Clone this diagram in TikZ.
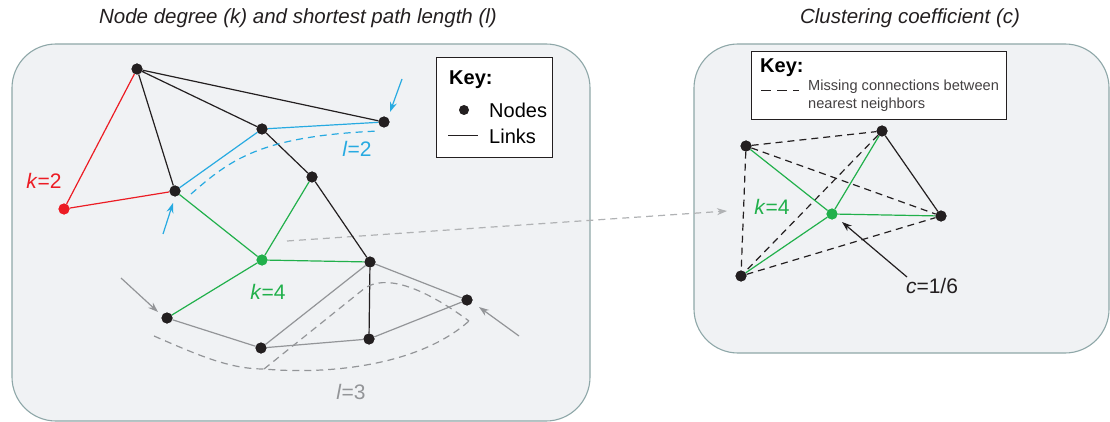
\documentclass[tikz,border=0pt]{standalone}
\usepackage{fontspec}
\setmainfont{Liberation Sans}
\usetikzlibrary{arrows.meta,calc}
\definecolor{panelfill}{HTML}{F0F2F4}
\definecolor{panelline}{HTML}{8EA7A8}
\definecolor{nred}{HTML}{EC1C24}
\definecolor{ngreen}{HTML}{21B04B}
\definecolor{ncyan}{HTML}{27AAE1}
\definecolor{ngray}{HTML}{939598}
\definecolor{nblack}{HTML}{231F20}
\definecolor{ltgray}{HTML}{B0B2B4}
\definecolor{titlecol}{HTML}{231F20}
\tikzset{
  panel/.style={draw=panelline, fill=panelfill, line width=1.1pt, rounded corners=44pt},
  dot/.style={circle, fill=nblack, inner sep=0pt, minimum size=11pt},
  gdot/.style={circle, fill=ngreen, inner sep=0pt, minimum size=11pt},
  rdot/.style={circle, fill=nred, inner sep=0pt, minimum size=11pt},
  edge/.style={line width=1.2pt, nblack},
  redge/.style={line width=1.2pt, nred},
  gedge/.style={line width=1.2pt, ngreen},
  cedge/.style={line width=1.2pt, ncyan},
  yedge/.style={line width=1.2pt, ngray},
  mdash/.style={line width=1.2pt, nblack, dash pattern=on 7pt off 5pt},
  pathdash/.style={line width=1.2pt, dash pattern=on 7pt off 5pt},
  ttl/.style={font=\fontsize{20.5}{24}\selectfont\itshape, text=titlecol},
  lbl/.style={font=\fontsize{21}{25}\selectfont},
  keyt/.style={font=\fontsize{20}{24}\selectfont, anchor=west, inner sep=0pt},
  keyb/.style={draw=nblack, line width=1.3pt, fill=white},
  pointer/.style={line width=1.2pt, -{Stealth[length=10pt,width=7pt]}},
}
\begin{document}
\begin{tikzpicture}[x=1pt,y=-1pt]
\useasboundingbox (0,0) rectangle (1110,422);
% panels
\draw[panel] (12,44) rectangle (590,421);
\draw[panel] (694,44) rectangle (1109,353);
\node[ttl] (t1) at (298,18) {Node degree (k) and shortest path length (l)};
\node[ttl] (t2) at (910,18) {Clustering coefficient (c)};

% left key
\node[keyb, minimum width=116pt, minimum height=100pt, anchor=north west] (key1) at (436,57) {};
\node[keyt, font=\fontsize{20}{24}\selectfont\bfseries] (k1t) at (449,80) {Key:};
\node[dot, minimum size=10pt] (k1d) at (464,110) {};
\node[keyt] (k1n) at (489,110) {Nodes};
\coordinate (k1a) at (448,136);
\coordinate (k1b) at (478,136);
\draw[edge, line width=1pt] (k1a) -- (k1b);
\node[keyt] (k1l) at (489,136) {Links};

% left nodes
\node[dot] (A) at (137,69) {};
\node[dot] (B) at (262,129) {};
\node[dot] (C) at (384,122) {};
\node[dot] (D) at (175,191) {};
\node[rdot] (E) at (64,209) {};
\node[dot] (F) at (312,177) {};
\node[gdot] (G) at (262,260) {};
\node[dot] (H) at (370,262) {};
\node[dot] (I) at (167,318) {};
\node[dot] (J) at (261,348) {};
\node[dot] (K) at (369,339) {};
\node[dot] (L) at (467,300) {};

% dashed long arrow
\coordinate (arrS) at (287,241);
\coordinate (arrE) at (727,211);
\draw[ltgray, line width=1.2pt, dash pattern=on 7pt off 5pt, -{Stealth[length=10pt,width=7pt]}] (arrS) -- (arrE);

% left edges
\draw[redge] (A) -- (E) (E) -- (D);
\draw[edge] (A) -- (D) (A) -- (B) (A) -- (C) (B) -- (F) (F) -- (H) (H) -- (K);
\draw[cedge] (B) -- (C) (D) -- (B);
\draw[gedge] (D) -- (G) (F) -- (G) (G) -- (H) (G) -- (I);
\draw[yedge] (I) -- (J) (J) -- (H) (J) -- (K) (H) -- (L) (K) -- (L);
\foreach \n in {A,B,C,D,F,H,I,J,K,L} \node[dot] at (\n) {};
\node[rdot] at (E) {};
\node[gdot] at (G) {};

% cyan dashed path
\coordinate (cd1) at (191,194);
\coordinate (cd2) at (379,131);
\draw[pathdash, ncyan] (cd1) .. controls (230,160) and (260,136) .. (cd2);
% cyan arrows
\coordinate (ca1) at (163,234);
\coordinate (ca2) at (402,79);
\draw[pointer, ncyan] (ca1) -- ($(D)+(-2,12)$);
\draw[pointer, ncyan] (ca2) -- ($(C)+(6,-10)$);
% gray arrows
\coordinate (ga1) at (121,278);
\coordinate (ga2) at (519,336);
\draw[pointer, ngray] (ga1) -- ($(I)+(-9,-6)$);
\draw[pointer, ngray] (ga2) -- ($(L)+(12,7)$);
% gray dashed path
\coordinate (gd1) at (154,336);
\coordinate (gd2) at (264,369);
\coordinate (gd3) at (469,321);
\draw[pathdash, ngray] (gd1) .. controls (200,356) and (230,369) .. (gd2)
   .. controls (330,375) and (420,365) .. (gd3);
\draw[pathdash, ngray] (gd2) -- (365,288) .. controls (385,275) and (420,285) .. (gd3);

% labels
\node[lbl, text=nred] (lk2) at (44,181) {\textit{k}=2};
\node[lbl, text=ngreen] (lk4) at (268,292) {\textit{k}=4};
\node[lbl, text=ncyan] (ll2) at (357,149) {\textit{l}=2};
\node[lbl, text=ngray] (ll3) at (351,392) {\textit{l}=3};

% right key
\node[keyb, minimum width=255pt, minimum height=68pt, anchor=north west] (key2) at (751,51) {};
\node[keyt, font=\fontsize{20}{24}\selectfont\bfseries] (k2t) at (760,68) {Key:};
\coordinate (k2a) at (761,91);
\coordinate (k2b) at (799,91);
\draw[edge, line width=1pt, dash pattern=on 10pt off 6pt] (k2a) -- (k2b);
\node[font=\fontsize{14.6}{18}\selectfont, anchor=north west, align=left, inner sep=0pt, text=nblack!85] (k2x) at (808,80) {Missing connections between\\nearest neighbors};

% right nodes
\node[dot] (P1) at (746,146) {};
\node[dot] (P2) at (882,131) {};
\node[dot] (P3) at (941,216) {};
\node[dot] (P4) at (741,276) {};
\node[gdot] (Q) at (832,214) {};
\draw[mdash] (P1) -- (P2) (P1) -- (P3) (P1) -- (P4) (P2) -- (P4) (P4) -- (P3);
\draw[edge] (P2) -- (P3);
\draw[gedge] (Q) -- (P1) (Q) -- (P2) (Q) -- (P3) (Q) -- (P4);
\foreach \n in {P1,P2,P3,P4} \node[dot] at (\n) {};
\node[gdot] at (Q) {};
\node[lbl, text=ngreen] (rk4) at (772,207) {\textit{k}=4};
\node[lbl, text=nblack] (rc) at (932,286) {\textit{c}=1/6};
\coordinate (ra) at (907,277);
\draw[pointer, nblack] (ra) -- ($(Q)+(10,8)$);
\end{tikzpicture}
\end{document}
